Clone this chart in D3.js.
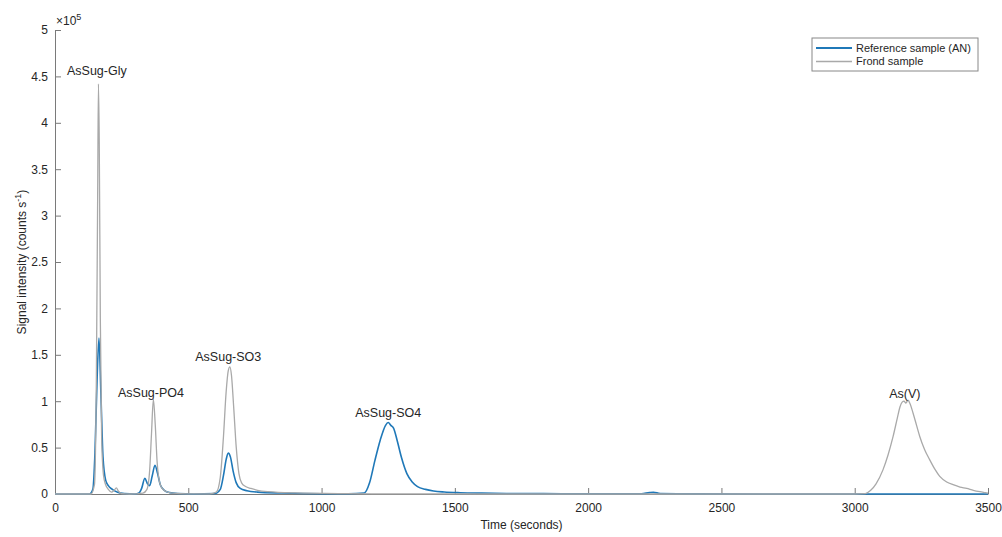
<!DOCTYPE html>
<html lang="en">
<head>
  <meta charset="UTF-8">
  <title>Arsenic speciation chromatogram</title>
  <script src="https://d3js.org/d3.v7.min.js"></script>
  <style>
    body { margin: 0; background: #fff; }
    text { font-family: "Liberation Sans", Arial, sans-serif; fill: #262626; }
  </style>
</head>
<body>
  <div id="chart"></div>

  <script>
    // Reference sample (AN): time in seconds, signal in counts per second
    const refTime = [0, 130, 142, 150, 158, 165, 172, 180, 190, 200, 215, 235, 260, 300,
      315, 325, 337, 347, 355, 365, 375, 385, 395, 410, 430, 460, 520,
      600, 620, 632, 642, 650, 658, 668, 680, 695, 720, 760, 850, 1000, 1100,
      1160, 1180, 1200, 1220, 1240, 1250, 1260, 1270, 1285, 1300, 1320, 1340, 1360,
      1390, 1420, 1460, 1520, 1600, 1750, 1900, 2100, 2200, 2230, 2245, 2270, 2400, 3000, 3500];
    const refSignal = [0, 0, 5000, 45000, 125000, 168000, 110000, 40000, 15000, 9000, 5000, 2000, 500, 0,
      1000, 6000, 17000, 11000, 9000, 20000, 31000, 22000, 10000, 4000, 1500, 500, 0,
      500, 5000, 20000, 37000, 44000, 40000, 25000, 12000, 6000, 3500, 2000, 1000, 300, 300,
      1000, 12000, 36000, 58000, 74000, 77000, 74000, 71000, 56000, 39000, 22000, 13000, 8000,
      5000, 3300, 2200, 1400, 900, 500, 300, 200, 300, 1500, 1800, 600, 100, 0, 0];

    // Frond sample
    const frondTime = [0, 135, 148, 155, 160, 163, 166, 170, 175, 182, 190, 200, 212, 222, 230, 238, 250, 280,
      330, 345, 355, 362, 369, 376, 383, 392, 402, 415, 440, 500,
      580, 605, 620, 632, 642, 650, 656, 662, 670, 680, 690, 700, 715, 735, 760, 800, 900, 1100, 1300, 2000,
      3000, 3040, 3060, 3080, 3106, 3125, 3144, 3160, 3170, 3178, 3185, 3192, 3200, 3208, 3219, 3232,
      3244, 3262, 3281, 3300, 3319, 3345, 3369, 3395, 3420, 3445, 3470, 3490, 3500];
    const frondSignal = [0, 0, 10000, 120000, 320000, 442000, 380000, 190000, 60000, 20000, 10000, 5000, 2000, 4000, 6500, 3000, 500, 0,
      1000, 5000, 25000, 65000, 102000, 75000, 35000, 13000, 6000, 3000, 1000, 200,
      200, 2000, 18000, 62000, 110000, 133000, 137000, 128000, 95000, 50000, 22000, 12000, 8000, 6000, 4000, 2500, 1200, 400, 100, 0,
      0, 500, 4000, 11000, 26000, 42000, 62000, 82000, 94000, 99000, 100000, 98000, 101000, 97000, 87000, 74000,
      62000, 48000, 37000, 27000, 19000, 13000, 10000, 7500, 6000, 4000, 2500, 1500, 1000];

    // Peak annotations
    const peakNames = ["AsSug-Gly", "AsSug-PO4", "AsSug-SO3", "AsSug-SO4", "As(V)"];
    const peakTimes = [157, 360, 650, 1250, 3188];
    const peakLabelValues = [451000, 105000, 143000, 83000, 103500];

    const seriesNames = ["Reference sample (AN)", "Frond sample"];
    const colors = ["#1f78b8", "#a9a9a9"];

    const xTicks = [0, 500, 1000, 1500, 2000, 2500, 3000, 3500];
    const yTicks = [0, 50000, 100000, 150000, 200000, 250000, 300000, 350000, 400000, 450000, 500000];

    const W = 1002, H = 537;
    const margin = { top: 30, right: 14, bottom: 43, left: 55 };
    const width = W - margin.left - margin.right;
    const height = H - margin.top - margin.bottom;
    const axisColor = "#7a7a7a";

    const svg = d3.select("#chart").append("svg")
      .attr("width", W)
      .attr("height", H);

    const g = svg.append("g")
      .attr("transform", `translate(${margin.left},${margin.top})`);

    const x = d3.scaleLinear().domain([0, 3500]).range([0, width]);
    const y = d3.scaleLinear().domain([0, 500000]).range([height, 0]);

    // axes, ticks pointing inward like MATLAB
    const xAxis = g.append("g")
      .attr("transform", `translate(0,${height})`)
      .call(d3.axisBottom(x).tickValues(xTicks).tickSizeInner(-6).tickSizeOuter(0).tickPadding(9)
        .tickFormat(d3.format("d")));
    const yAxis = g.append("g")
      .call(d3.axisLeft(y).tickValues(yTicks).tickSizeInner(-6).tickSizeOuter(0).tickPadding(7)
        .tickFormat((d) => d3.format("~g")(d / 1e5)));

    [xAxis, yAxis].forEach((a) => {
      a.select(".domain").attr("stroke", axisColor);
      a.selectAll(".tick line").attr("stroke", axisColor);
      a.selectAll(".tick text").attr("font-size", 12).attr("fill", "#333")
        .attr("font-family", "'Liberation Sans', Arial, sans-serif");
    });

    // exponent label
    const expo = g.append("text")
      .attr("x", 1)
      .attr("y", -5)
      .attr("font-size", 12)
      .attr("fill", "#333");
    expo.append("tspan").text("\u00d710");
    expo.append("tspan").attr("dy", -5).attr("font-size", 9).text("5");

    // lines (frond drawn last, on top)
    const line = d3.line()
      .x((d) => x(d[0]))
      .y((d) => y(d[1]))
      .curve(d3.curveMonotoneX);

    const refData = refTime.map((t, i) => [t, refSignal[i]]);
    const frondData = frondTime.map((t, i) => [t, frondSignal[i]]);

    g.append("path")
      .datum(refData)
      .attr("fill", "none")
      .attr("stroke", colors[0])
      .attr("stroke-width", 1.6)
      .attr("d", line);

    g.append("path")
      .datum(frondData)
      .attr("fill", "none")
      .attr("stroke", colors[1])
      .attr("stroke-width", 1.3)
      .attr("d", line);

    // peak labels
    g.selectAll(".peak")
      .data(peakNames)
      .enter()
      .append("text")
      .attr("class", "peak")
      .attr("x", (d, i) => x(peakTimes[i]))
      .attr("y", (d, i) => y(peakLabelValues[i]))
      .attr("text-anchor", "middle")
      .attr("font-size", 12.5)
      .attr("fill", "#111")
      .text((d) => d);

    // axis titles
    g.append("text")
      .attr("x", width / 2)
      .attr("y", height + 35)
      .attr("text-anchor", "middle")
      .attr("font-size", 12)
      .text("Time (seconds)");

    const yt = g.append("text")
      .attr("transform", `translate(${-29},${height / 2}) rotate(-90)`)
      .attr("text-anchor", "middle")
      .attr("font-size", 12);
    yt.append("tspan").text("Signal intensity (counts s");
    yt.append("tspan").attr("dy", -5).attr("font-size", 9).text("-1");
    yt.append("tspan").attr("dy", 5).text(")");

    // legend
    const lg = svg.append("g").attr("transform", "translate(812,38)");
    lg.append("rect")
      .attr("width", 166)
      .attr("height", 33)
      .attr("fill", "#fff")
      .attr("stroke", "#888")
      .attr("stroke-width", 1);
    seriesNames.forEach((name, i) => {
      lg.append("line")
        .attr("x1", 4).attr("x2", 40)
        .attr("y1", 10 + i * 13.5).attr("y2", 10 + i * 13.5)
        .attr("stroke", colors[i])
        .attr("stroke-width", i === 0 ? 2 : 1.3);
      lg.append("text")
        .attr("x", 44)
        .attr("y", 10 + i * 13.5)
        .attr("dy", "0.35em")
        .attr("font-size", 11)
        .text(name);
    });
  </script>
</body>
</html>
